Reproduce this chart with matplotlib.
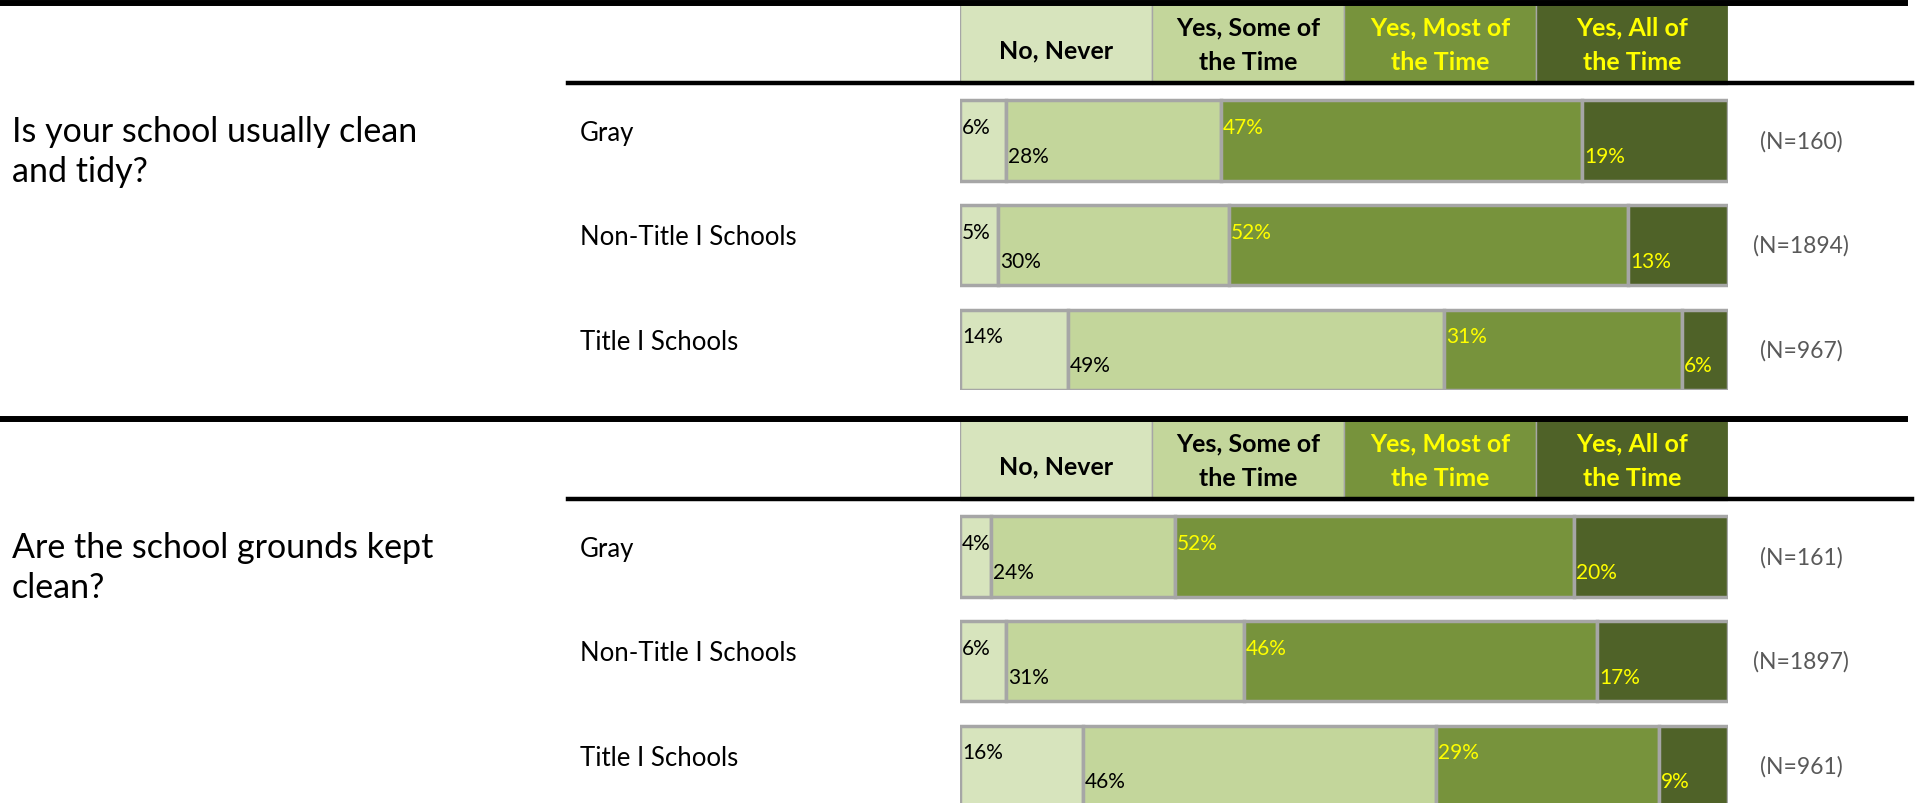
import matplotlib.pyplot as plt
from matplotlib.lines import Line2D
from matplotlib.transforms import blended_transform_factory

plt.rcParams['font.family'] = ['Lato', 'DejaVu Sans']

# answer categories (header boxes)
categories = ['No, Never', 'Yes, Some of\nthe Time', 'Yes, Most of\nthe Time', 'Yes, All of\nthe Time']
groups = ['Gray', 'Non-Title I Schools', 'Title I Schools']

q1_text = 'Is your school usually clean\nand tidy?'
q1_values = [[6, 28, 47, 19], [5, 30, 52, 13], [14, 49, 31, 6]]
q1_n = [160, 1894, 967]

q2_text = 'Are the school grounds kept\nclean?'
q2_values = [[4, 24, 52, 20], [6, 31, 46, 17], [16, 46, 29, 9]]
q2_n = [161, 1897, 961]

colors = ['#D7E4BD', '#C3D69B', '#77933C', '#4F6228']
text_colors = ['black', 'black', '#FFFF00', '#FFFF00']
edge = '#A6A6A6'

W, H = 1916, 804
fig = plt.figure(figsize=(W / 100, H / 100), dpi=100)


def px(x, y):
    # pixel (from top-left) -> figure fraction
    return x / W, 1 - y / H


def draw_section(top, question, values, ns):
    # thick line at the top of the section
    x0, y0 = px(0, top)
    x1, _ = px(1905, top)
    fig.add_artist(Line2D([x0, x1], [y0, y0], color='black', lw=4.3))

    ax = fig.add_axes([960 / W, 1 - (top + 387) / H, 768 / W, 386 / H])
    ax.set_xlim(0, 100)
    ax.set_ylim(3.385, -0.308)
    ax.axis('off')

    # header boxes
    hy = 0.077
    left = 0
    for i, cat in enumerate(categories):
        ax.barh(hy, 25, left=left, height=0.77, color=colors[i], edgecolor=edge, lw=1.0)
        dy = 0.05 if '\n' not in cat else 0.0
        ax.text(left + 12.5, hy + dy, cat, ha='center', va='center', fontsize=18,
                fontweight='bold', color=text_colors[i], linespacing=1.6)
        left += 25

    # line under the header
    xa, ya = px(568, top + 80)
    xb, _ = px(1912, top + 80)
    fig.add_artist(Line2D([xa, xb], [ya, ya], color='black', lw=3.2))

    trans = blended_transform_factory(fig.transFigure, ax.transData)
    for r, (row, n) in enumerate(zip(values, ns)):
        y = r + 1
        left = 0
        for i, v in enumerate(row):
            ax.barh(y, v, left=left, height=0.77, color=colors[i], edgecolor=edge, lw=2.5)
            ty = y - 0.13 if i % 2 == 0 else y + 0.15
            ax.text(left + 0.25, ty, '%d%%' % v, ha='left', va='center', fontsize=15,
                    color=text_colors[i])
            left += v
        ax.text(580 / W, y - 0.08, groups[r], transform=trans, ha='left', va='center',
                fontsize=18.5, color='black', clip_on=False)
        ax.text(1801 / W, y, '(N=%d)' % n, transform=trans, ha='center', va='center',
                fontsize=16.5, color='#595959', clip_on=False)

    ax.text(12 / W, 1.096, question, transform=trans, ha='left', va='center',
            fontsize=24.5, color='black', linespacing=1.3, clip_on=False)


draw_section(4, q1_text, q1_values, q1_n)
draw_section(420, q2_text, q2_values, q2_n)

fig.savefig('out.png', dpi=100)
